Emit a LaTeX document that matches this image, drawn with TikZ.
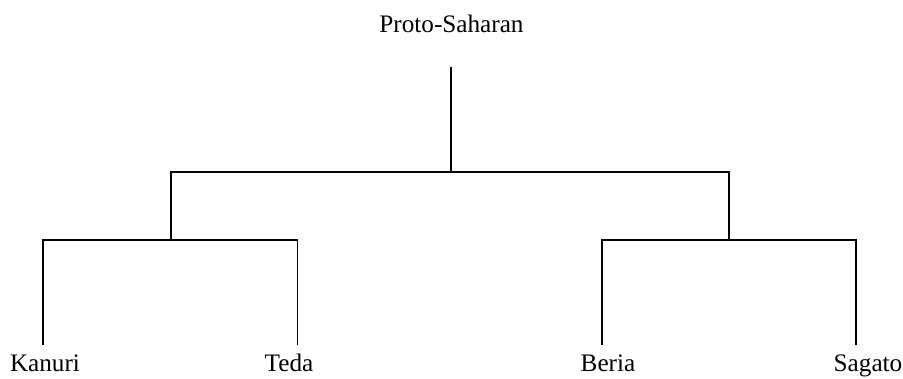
\documentclass[tikz,border=0pt]{standalone}
\usepackage{fontspec}
\setmainfont{Liberation Serif}
\begin{document}
\begin{tikzpicture}[x=1pt,y=-1pt,
  lbl/.style={anchor=base,inner sep=0pt,font=\fontsize{25.2}{30}\selectfont},
  branch/.style={line width=1.3pt,line cap=rect}]
\useasboundingbox (0,0) rectangle (903,378);
% labels
\node[lbl] (root) at (451.5,32) {Proto-Saharan};
\node[lbl] (kanuri) at (45,371) {Kanuri};
\node[lbl] (teda) at (289,371) {Teda};
\node[lbl] (beria) at (608,371) {Beria};
\node[lbl] (sagato) at (868,371) {Sagato};
% joints
\coordinate (rtop) at (451,68);
\coordinate (rbot) at (451,172);
\coordinate (lj) at (171,172);
\coordinate (rj) at (729,172);
\coordinate (ljb) at (171,240);
\coordinate (rjb) at (729,240);
\coordinate (k1) at (43,240);
\coordinate (t1) at (297.5,240);
\coordinate (b1) at (602,240);
\coordinate (s1) at (856,240);
\coordinate (k2) at (43,344);
\coordinate (t2) at (297.5,344);
\coordinate (b2) at (602,344);
\coordinate (s2) at (856,344);
% connectors
\draw[branch] (rtop) -- (rbot);
\draw[branch] (lj) -- (rj);
\draw[branch] (lj) -- (ljb);
\draw[branch] (rj) -- (rjb);
\draw[branch] (k1) -- (t1);
\draw[branch] (b1) -- (s1);
\draw[branch] (k1) -- (k2);
\draw[branch] (t1) -- (t2);
\draw[branch] (b1) -- (b2);
\draw[branch] (s1) -- (s2);
\end{tikzpicture}
\end{document}
